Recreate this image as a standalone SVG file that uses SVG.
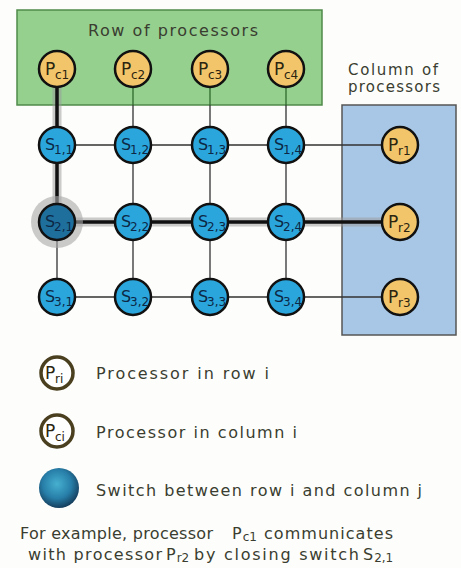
<svg xmlns="http://www.w3.org/2000/svg" width="461" height="568" viewBox="0 0 461 568">
<style>
text{font-family:"DejaVu Sans","Liberation Sans",sans-serif;fill:#3a3d30}
.lbl{font-size:16px}
.hd{font-size:15px}
.proc{fill:#f3c56a;stroke:#111;stroke-width:2.5}
.sw{fill:#2aa6dc;stroke:#111;stroke-width:2.5}
.pt{font-size:17px;fill:#2a2410}
.ps{font-size:12px;fill:#2a2410}
.st{font-size:16px;fill:#0c2846}
.ss{font-size:12px;fill:#0c2846}
.ln{stroke:#333;stroke-width:1.3;fill:none}
.gl{stroke:#2f6a2c;stroke-width:1.3;fill:none}
.leg{fill:#fff;stroke:#4a4020;stroke-width:3.5}
.cs{font-size:12px}
</style>
<defs>
<radialGradient id="sph" cx="45%" cy="40%" r="60%">
<stop offset="0" stop-color="#46b0d0"/>
<stop offset="0.6" stop-color="#277ea8"/>
<stop offset="1" stop-color="#163f5e"/>
</radialGradient>
</defs>
<rect x="0" y="0" width="461" height="568" fill="#fdfdfb"/>
<g id="row-of-processors">
<rect x="17" y="10" width="305" height="95" fill="#95d08f" stroke="#4f8a4a" stroke-width="1.5"/>
<text class="lbl" x="88" y="36" textLength="170">Row of processors</text>
</g>
<g id="column-of-processors">
<rect x="342" y="105" width="114" height="230" fill="#a8c7e6" stroke="#555" stroke-width="1.5"/>
<text class="hd" x="348" y="75" textLength="90">Column of</text>
<text class="hd" x="348" y="92" textLength="92">processors</text>
</g>
<g id="connectors">
<path class="gl" d="M133,87V105M210,87V105M286,87V105"/>
<path class="ln" d="M133,105V297M210,105V297M286,105V297M57,222V297"/>
<path class="ln" d="M57,145H400M57,297H400"/>
<path d="M57,87V222H400" fill="none" stroke="#9a9a9a" stroke-opacity="0.5" stroke-width="9"/>
<path d="M57,87V222H400" fill="none" stroke="#111" stroke-width="3.5"/>
</g>
<g id="Pc1"><circle class="proc" cx="57" cy="69" r="18"/><text class="pt" x="45" y="75">P</text><text class="ps" x="55" y="79">c1</text></g>
<g id="Pc2"><circle class="proc" cx="133" cy="69" r="18"/><text class="pt" x="121" y="75">P</text><text class="ps" x="131" y="79">c2</text></g>
<g id="Pc3"><circle class="proc" cx="210" cy="69" r="18"/><text class="pt" x="198" y="75">P</text><text class="ps" x="208" y="79">c3</text></g>
<g id="Pc4"><circle class="proc" cx="286" cy="69" r="18"/><text class="pt" x="274" y="75">P</text><text class="ps" x="284" y="79">c4</text></g>
<g id="Pr1"><circle class="proc" cx="400" cy="145" r="18"/><text class="pt" x="388" y="151">P</text><text class="ps" x="398" y="155">r1</text></g>
<g id="Pr2"><circle class="proc" cx="400" cy="222" r="18"/><text class="pt" x="388" y="228">P</text><text class="ps" x="398" y="232">r2</text></g>
<g id="Pr3"><circle class="proc" cx="400" cy="297" r="18"/><text class="pt" x="388" y="303">P</text><text class="ps" x="398" y="307">r3</text></g>
<g id="S11"><circle class="sw" cx="57" cy="145" r="18"/><text class="st" x="45" y="150">S</text><text class="ss" x="54" y="154">1,1</text></g>
<g id="S12"><circle class="sw" cx="133" cy="145" r="18"/><text class="st" x="121" y="150">S</text><text class="ss" x="130" y="154">1,2</text></g>
<g id="S13"><circle class="sw" cx="210" cy="145" r="18"/><text class="st" x="198" y="150">S</text><text class="ss" x="207" y="154">1,3</text></g>
<g id="S14"><circle class="sw" cx="286" cy="145" r="18"/><text class="st" x="274" y="150">S</text><text class="ss" x="283" y="154">1,4</text></g>
<g id="S21"><circle cx="57" cy="222" r="26" fill="#a8a8a8" fill-opacity="0.6"/><circle cx="57" cy="222" r="18" fill="#1f6f9c" stroke="#111" stroke-width="2.5"/><text class="st" x="45" y="227">S</text><text class="ss" x="54" y="231">2,1</text></g>
<g id="S22"><circle class="sw" cx="133" cy="222" r="18"/><text class="st" x="121" y="227">S</text><text class="ss" x="130" y="231">2,2</text></g>
<g id="S23"><circle class="sw" cx="210" cy="222" r="18"/><text class="st" x="198" y="227">S</text><text class="ss" x="207" y="231">2,3</text></g>
<g id="S24"><circle class="sw" cx="286" cy="222" r="18"/><text class="st" x="274" y="227">S</text><text class="ss" x="283" y="231">2,4</text></g>
<g id="S31"><circle class="sw" cx="57" cy="297" r="18"/><text class="st" x="45" y="302">S</text><text class="ss" x="54" y="306">3,1</text></g>
<g id="S32"><circle class="sw" cx="133" cy="297" r="18"/><text class="st" x="121" y="302">S</text><text class="ss" x="130" y="306">3,2</text></g>
<g id="S33"><circle class="sw" cx="210" cy="297" r="18"/><text class="st" x="198" y="302">S</text><text class="ss" x="207" y="306">3,3</text></g>
<g id="S34"><circle class="sw" cx="286" cy="297" r="18"/><text class="st" x="274" y="302">S</text><text class="ss" x="283" y="306">3,4</text></g>
<g id="legend-row">
<circle class="leg" cx="57" cy="373" r="16"/><text class="pt" x="45" y="379">P</text><text class="ps" x="55" y="383">ri</text>
<text class="lbl" x="96" y="379" textLength="173">Processor in row i</text>
</g>
<g id="legend-column">
<circle class="leg" cx="57" cy="431" r="16"/><text class="pt" x="45" y="437">P</text><text class="ps" x="55" y="441">ci</text>
<text class="lbl" x="96" y="438" textLength="201">Processor in column i</text>
</g>
<g id="legend-switch">
<circle cx="59" cy="488" r="20" fill="url(#sph)"/>
<text class="lbl" x="96" y="496" textLength="326">Switch between row i and column j</text>
</g>
<g id="caption">
<text class="lbl" x="20" y="539" textLength="193">For example, processor</text>
<text class="lbl" x="232" y="539">P<tspan class="cs" dx="1" dy="2">c1</tspan></text>
<text class="lbl" x="264" y="539" textLength="129">communicates</text>
<text class="lbl" x="28" y="560" textLength="134">with processor</text>
<text class="lbl" x="166" y="560">P<tspan class="cs" dx="1" dy="2">r2</tspan></text>
<text class="lbl" x="194" y="560" textLength="165">by closing switch</text>
<text class="lbl" x="363" y="560">S<tspan class="cs" dx="1" dy="2">2,1</tspan></text>
</g>
</svg>
